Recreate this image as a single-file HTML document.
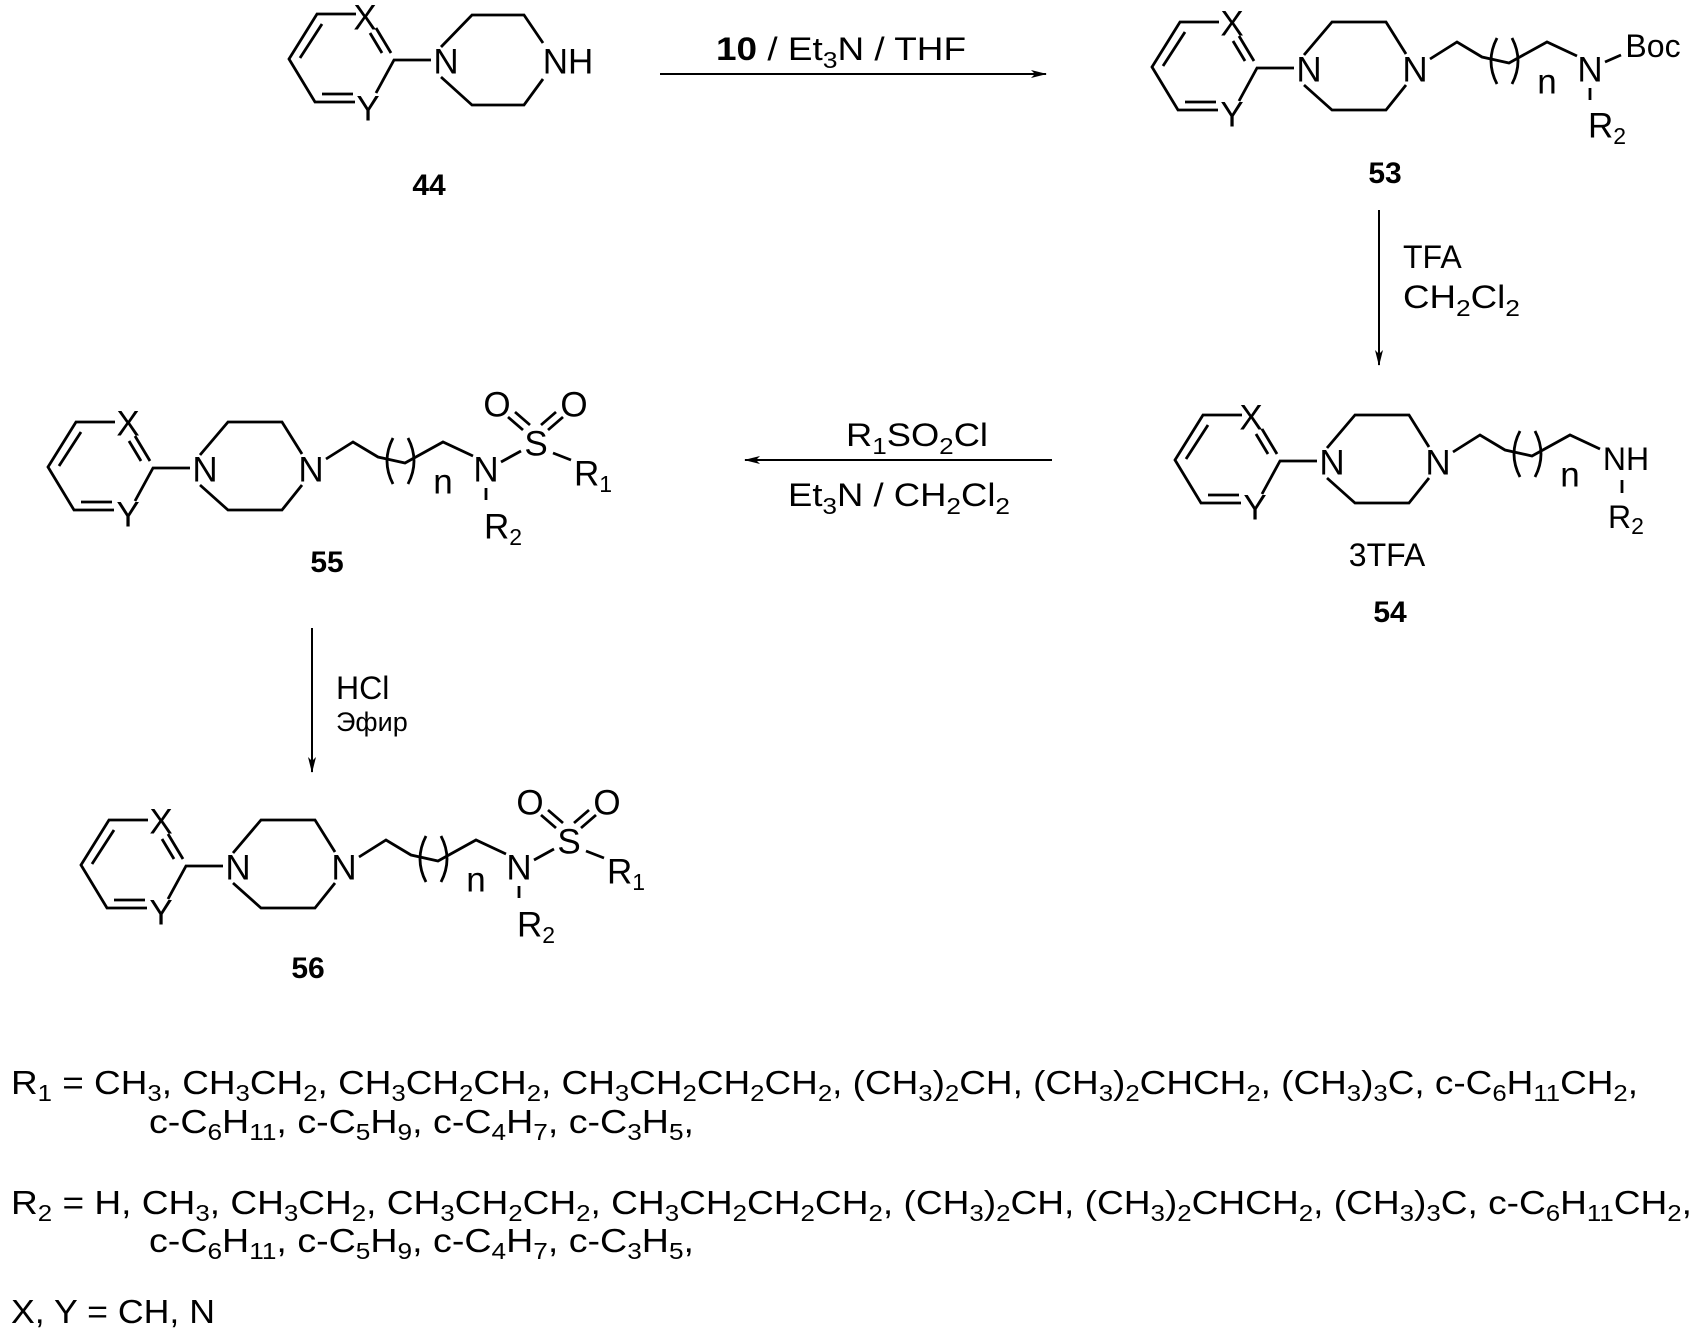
<!DOCTYPE html>
<html><head><meta charset="utf-8"><style>
html,body{margin:0;padding:0;background:#fff}
svg{display:block}
text{font-family:"Liberation Sans",Arial,sans-serif;fill:#000}
.a{font-size:35px}
.b{font-size:30px;font-weight:bold}
.r{font-size:32px}
.l{font-size:33px}
.s{font-size:23px}
</style></head><body>
<svg width="1701" height="1334" viewBox="0 0 1701 1334" xmlns="http://www.w3.org/2000/svg">
<defs>
<g id="ring" fill="none" stroke="#000" stroke-width="2.8">
<path d="M-55 -9 L-70 -34 M-64 -9 L-76 -29 M-90 -48 L-129 -48 L-157 -3 L-131 40 L-91 40 M-124 -38 L-146 -4 M-124 32 L-93 32 M-70 31 L-52 -2 L-15 -2"/>
</g>
<g id="pip" fill="none" stroke="#000" stroke-width="2.8">
<path d="M-5 -15 L23 -48 L77 -48 L97 -16 M-5 15 L23 40 L77 40 L97 15"/>
</g>
<g id="chain" fill="none" stroke="#000" stroke-width="2.8">
<path d="M121 -11 L148 -28 L173 -13 L200 -7 L238 -28 L268 -14"/>
<path d="M188 -32 Q176 -9 188 14 M203 -32 Q215 -9 203 14"/>
</g>
<g id="sulf" fill="none" stroke="#000" stroke-width="2.8">
<path d="M296 -8 L316 -19 M318 -40 L303 -53 M325 -45 L310 -58 M343 -40 L358 -53 M336 -45 L351 -58 M348 -17 L366 -10 M281 18 L281 30"/>
</g>
<marker id="ah" markerWidth="16" markerHeight="10" refX="15" refY="5" orient="auto" markerUnits="userSpaceOnUse">
<path d="M0 1 L16 5 L0 9 L4 5 Z" fill="#000"/>
</marker>
</defs>

<!-- 44 -->
<g transform="translate(446,62)">
<use href="#ring"/>
<path d="M-5 -15 L26 -47 L78 -47 L97 -19 M-5 15 L26 43 L78 43 L97 17" fill="none" stroke="#000" stroke-width="2.8"/>
<text class="a" x="-81" y="-44" text-anchor="middle" dominant-baseline="central">X</text>
<text class="a" x="-78" y="47" text-anchor="middle" dominant-baseline="central">Y</text>
<text class="a" x="0" y="0" text-anchor="middle" dominant-baseline="central">N</text>
<text class="a" x="122" y="0" text-anchor="middle" dominant-baseline="central">NH</text>
</g>
<text class="b" x="429" y="195" text-anchor="middle">44</text>

<!-- arrow 44->53 -->
<line x1="660" y1="74" x2="1046" y2="74" stroke="#000" stroke-width="2" marker-end="url(#ah)"/>
<text class="r" x="716" y="60" textLength="250" lengthAdjust="spacingAndGlyphs"><tspan font-weight="bold">10</tspan> / Et<tspan class="s" dy="8">3</tspan><tspan dy="-8">N / THF</tspan></text>

<!-- 53 -->
<g transform="translate(1309,70)">
<use href="#ring"/><use href="#pip"/><use href="#chain"/>
<path d="M296 -8 L312 -15 M281 18 L281 30" fill="none" stroke="#000" stroke-width="2.8"/>
<text class="a" x="-77" y="-46" text-anchor="middle" dominant-baseline="central">X</text>
<text class="a" x="-77" y="45" text-anchor="middle" dominant-baseline="central">Y</text>
<text class="a" x="0" y="0" text-anchor="middle" dominant-baseline="central">N</text>
<text class="a" x="106" y="0" text-anchor="middle" dominant-baseline="central">N</text>
<text class="a" x="238" y="12" text-anchor="middle" dominant-baseline="central">n</text>
<text class="a" x="281" y="0" text-anchor="middle" dominant-baseline="central">N</text>
<text class="r" x="344" y="-24" text-anchor="middle" dominant-baseline="central">Boc</text>
<text class="a" x="279" y="56" dominant-baseline="central">R<tspan class="s" dy="10">2</tspan></text>
</g>
<text class="b" x="1385" y="183" text-anchor="middle">53</text>

<!-- arrow 53->54 -->
<line x1="1379" y1="210" x2="1379" y2="365" stroke="#000" stroke-width="2" marker-end="url(#ah)"/>
<text class="r" x="1403" y="268">TFA</text>
<text class="r" x="1403" y="308" textLength="117" lengthAdjust="spacingAndGlyphs">CH<tspan class="s" dy="8">2</tspan><tspan dy="-8">Cl</tspan><tspan class="s" dy="8">2</tspan></text>

<!-- 54 -->
<g transform="translate(1332,463)">
<use href="#ring"/><use href="#pip"/><use href="#chain"/>
<path d="M290 17 L290 30" fill="none" stroke="#000" stroke-width="2.8"/>
<text class="a" x="-81" y="-45" text-anchor="middle" dominant-baseline="central">X</text>
<text class="a" x="-77" y="45" text-anchor="middle" dominant-baseline="central">Y</text>
<text class="a" x="0" y="0" text-anchor="middle" dominant-baseline="central">N</text>
<text class="a" x="106" y="0" text-anchor="middle" dominant-baseline="central">N</text>
<text class="a" x="238" y="12" text-anchor="middle" dominant-baseline="central">n</text>
<text class="r" x="294" y="-4" text-anchor="middle" dominant-baseline="central">NH</text>
<text class="r" x="276" y="54" dominant-baseline="central">R<tspan class="s" dy="9">2</tspan></text>
</g>
<text class="r" x="1387" y="566" text-anchor="middle">3TFA</text>
<text class="b" x="1390" y="622" text-anchor="middle">54</text>

<!-- arrow 54->55 -->
<line x1="1052" y1="460" x2="745" y2="460" stroke="#000" stroke-width="2" marker-end="url(#ah)"/>
<text class="r" x="846" y="446" textLength="142" lengthAdjust="spacingAndGlyphs">R<tspan class="s" dy="8">1</tspan><tspan dy="-8">SO</tspan><tspan class="s" dy="8">2</tspan><tspan dy="-8">Cl</tspan></text>
<text class="r" x="788" y="506" textLength="222" lengthAdjust="spacingAndGlyphs">Et<tspan class="s" dy="8">3</tspan><tspan dy="-8">N / CH</tspan><tspan class="s" dy="8">2</tspan><tspan dy="-8">Cl</tspan><tspan class="s" dy="8">2</tspan></text>

<!-- 55 -->
<g transform="translate(205,470)">
<use href="#ring"/><use href="#pip"/><use href="#chain"/><use href="#sulf"/>
<text class="a" x="-77" y="-46" text-anchor="middle" dominant-baseline="central">X</text>
<text class="a" x="-77" y="45" text-anchor="middle" dominant-baseline="central">Y</text>
<text class="a" x="0" y="0" text-anchor="middle" dominant-baseline="central">N</text>
<text class="a" x="106" y="0" text-anchor="middle" dominant-baseline="central">N</text>
<text class="a" x="238" y="12" text-anchor="middle" dominant-baseline="central">n</text>
<text class="a" x="281" y="0" text-anchor="middle" dominant-baseline="central">N</text>
<text class="a" x="331" y="-26" text-anchor="middle" dominant-baseline="central">S</text>
<text class="a" x="292" y="-65" text-anchor="middle" dominant-baseline="central">O</text>
<text class="a" x="369" y="-65" text-anchor="middle" dominant-baseline="central">O</text>
<text class="a" x="369" y="4" dominant-baseline="central">R<tspan class="s" dy="10">1</tspan></text>
<text class="a" x="279" y="57" dominant-baseline="central">R<tspan class="s" dy="10">2</tspan></text>
</g>
<text class="b" x="327" y="572" text-anchor="middle">55</text>

<!-- arrow 55->56 -->
<line x1="312" y1="628" x2="312" y2="772" stroke="#000" stroke-width="2" marker-end="url(#ah)"/>
<text class="r" x="336" y="699">HCl</text>
<text x="336" y="731" style="font-size:27px">Эфир</text>

<!-- 56 -->
<g transform="translate(238,868)">
<use href="#ring"/><use href="#pip"/><use href="#chain"/><use href="#sulf"/>
<text class="a" x="-77" y="-46" text-anchor="middle" dominant-baseline="central">X</text>
<text class="a" x="-77" y="45" text-anchor="middle" dominant-baseline="central">Y</text>
<text class="a" x="0" y="0" text-anchor="middle" dominant-baseline="central">N</text>
<text class="a" x="106" y="0" text-anchor="middle" dominant-baseline="central">N</text>
<text class="a" x="238" y="12" text-anchor="middle" dominant-baseline="central">n</text>
<text class="a" x="281" y="0" text-anchor="middle" dominant-baseline="central">N</text>
<text class="a" x="331" y="-26" text-anchor="middle" dominant-baseline="central">S</text>
<text class="a" x="292" y="-65" text-anchor="middle" dominant-baseline="central">O</text>
<text class="a" x="369" y="-65" text-anchor="middle" dominant-baseline="central">O</text>
<text class="a" x="369" y="4" dominant-baseline="central">R<tspan class="s" dy="10">1</tspan></text>
<text class="a" x="279" y="57" dominant-baseline="central">R<tspan class="s" dy="10">2</tspan></text>
</g>
<text class="b" x="308" y="978" text-anchor="middle">56</text>

<!-- legend -->
<text class="l" x="11" y="1094" textLength="1627" lengthAdjust="spacingAndGlyphs">R<tspan class="s" dy="7">1</tspan><tspan dy="-7"> = CH</tspan><tspan class="s" dy="7">3</tspan><tspan dy="-7">, CH</tspan><tspan class="s" dy="7">3</tspan><tspan dy="-7">CH</tspan><tspan class="s" dy="7">2</tspan><tspan dy="-7">, CH</tspan><tspan class="s" dy="7">3</tspan><tspan dy="-7">CH</tspan><tspan class="s" dy="7">2</tspan><tspan dy="-7">CH</tspan><tspan class="s" dy="7">2</tspan><tspan dy="-7">, CH</tspan><tspan class="s" dy="7">3</tspan><tspan dy="-7">CH</tspan><tspan class="s" dy="7">2</tspan><tspan dy="-7">CH</tspan><tspan class="s" dy="7">2</tspan><tspan dy="-7">CH</tspan><tspan class="s" dy="7">2</tspan><tspan dy="-7">, (CH</tspan><tspan class="s" dy="7">3</tspan><tspan dy="-7">)</tspan><tspan class="s" dy="7">2</tspan><tspan dy="-7">CH, (CH</tspan><tspan class="s" dy="7">3</tspan><tspan dy="-7">)</tspan><tspan class="s" dy="7">2</tspan><tspan dy="-7">CHCH</tspan><tspan class="s" dy="7">2</tspan><tspan dy="-7">, (CH</tspan><tspan class="s" dy="7">3</tspan><tspan dy="-7">)</tspan><tspan class="s" dy="7">3</tspan><tspan dy="-7">C, c-C</tspan><tspan class="s" dy="7">6</tspan><tspan dy="-7">H</tspan><tspan class="s" dy="7">11</tspan><tspan dy="-7">CH</tspan><tspan class="s" dy="7">2</tspan><tspan dy="-7">,</tspan></text>
<text class="l" x="149" y="1133" textLength="545" lengthAdjust="spacingAndGlyphs">c-C<tspan class="s" dy="7">6</tspan><tspan dy="-7">H</tspan><tspan class="s" dy="7">11</tspan><tspan dy="-7">, c-C</tspan><tspan class="s" dy="7">5</tspan><tspan dy="-7">H</tspan><tspan class="s" dy="7">9</tspan><tspan dy="-7">, c-C</tspan><tspan class="s" dy="7">4</tspan><tspan dy="-7">H</tspan><tspan class="s" dy="7">7</tspan><tspan dy="-7">, c-C</tspan><tspan class="s" dy="7">3</tspan><tspan dy="-7">H</tspan><tspan class="s" dy="7">5</tspan><tspan dy="-7">,</tspan></text>

<text class="l" x="11" y="1214" textLength="1681" lengthAdjust="spacingAndGlyphs">R<tspan class="s" dy="7">2</tspan><tspan dy="-7"> = H, CH</tspan><tspan class="s" dy="7">3</tspan><tspan dy="-7">, CH</tspan><tspan class="s" dy="7">3</tspan><tspan dy="-7">CH</tspan><tspan class="s" dy="7">2</tspan><tspan dy="-7">, CH</tspan><tspan class="s" dy="7">3</tspan><tspan dy="-7">CH</tspan><tspan class="s" dy="7">2</tspan><tspan dy="-7">CH</tspan><tspan class="s" dy="7">2</tspan><tspan dy="-7">, CH</tspan><tspan class="s" dy="7">3</tspan><tspan dy="-7">CH</tspan><tspan class="s" dy="7">2</tspan><tspan dy="-7">CH</tspan><tspan class="s" dy="7">2</tspan><tspan dy="-7">CH</tspan><tspan class="s" dy="7">2</tspan><tspan dy="-7">, (CH</tspan><tspan class="s" dy="7">3</tspan><tspan dy="-7">)</tspan><tspan class="s" dy="7">2</tspan><tspan dy="-7">CH, (CH</tspan><tspan class="s" dy="7">3</tspan><tspan dy="-7">)</tspan><tspan class="s" dy="7">2</tspan><tspan dy="-7">CHCH</tspan><tspan class="s" dy="7">2</tspan><tspan dy="-7">, (CH</tspan><tspan class="s" dy="7">3</tspan><tspan dy="-7">)</tspan><tspan class="s" dy="7">3</tspan><tspan dy="-7">C, c-C</tspan><tspan class="s" dy="7">6</tspan><tspan dy="-7">H</tspan><tspan class="s" dy="7">11</tspan><tspan dy="-7">CH</tspan><tspan class="s" dy="7">2</tspan><tspan dy="-7">,</tspan></text>
<text class="l" x="149" y="1252" textLength="545" lengthAdjust="spacingAndGlyphs">c-C<tspan class="s" dy="7">6</tspan><tspan dy="-7">H</tspan><tspan class="s" dy="7">11</tspan><tspan dy="-7">, c-C</tspan><tspan class="s" dy="7">5</tspan><tspan dy="-7">H</tspan><tspan class="s" dy="7">9</tspan><tspan dy="-7">, c-C</tspan><tspan class="s" dy="7">4</tspan><tspan dy="-7">H</tspan><tspan class="s" dy="7">7</tspan><tspan dy="-7">, c-C</tspan><tspan class="s" dy="7">3</tspan><tspan dy="-7">H</tspan><tspan class="s" dy="7">5</tspan><tspan dy="-7">,</tspan></text>

<text class="l" x="11" y="1323" textLength="204" lengthAdjust="spacingAndGlyphs">X, Y = CH, N</text>
</svg>
</body></html>
